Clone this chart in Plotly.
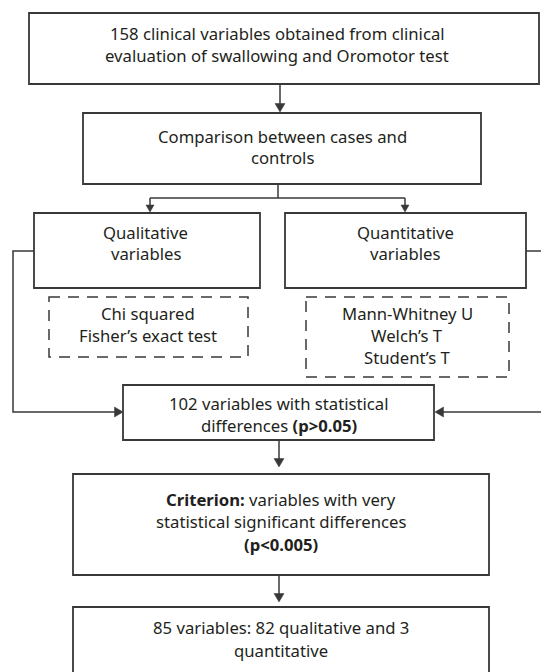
import plotly.graph_objects as go

# ---- content (text lines of each node) ----
box_lines = [
    ["158 clinical variables obtained from clinical",
     "evaluation of swallowing and Oromotor test"],
    ["Comparison between cases and", "controls"],
    ["Qualitative", "variables"],
    ["Quantitative", "variables"],
    ["102 variables with statistical", "differences <b>(p>0.05)</b>"],
    ["<b>Criterion:</b> variables with very",
     "statistical significant differences", "<b>(p<0.005)</b>"],
    ["85 variables: 82 qualitative and 3", "quantitative"],
]
test_lines = [
    ["Chi squared", "Fisher’s exact test"],
    ["Mann-Whitney U", "Welch’s T", "Student’s T"],
]

# ---- layout geometry (pixels, y downward) ----
W, H = 541, 672
boxes = [  # x0, y0, x1, y1
    (29, 13, 539, 84),
    (83, 113, 481, 184),
    (34, 213, 260, 288),
    (285, 213, 526, 288),
    (123, 385, 434, 440),
    (73, 474, 489, 575),
    (73, 607, 489, 700),
]
box_text_x = [277, 282, 145.5, 405, 278.5, 281, 281]
box_text_y = [[33, 55], [136, 157], [232, 253], [232, 253],
              [403, 425], [499, 521, 544], [627, 650]]
dashed = [
    (49, 297, 248, 357),
    (306, 297, 509, 377),
]
test_text_x = [148, 407]
test_text_y = [[313, 335], [313, 335, 357]]

LINE = "#383838"
TXT = "#231f20"
FONT = "Noto Sans"
FS = 16.7

shapes = []
annotations = []


def add_text(x, ys, lines):
    for y, t in zip(ys, lines):
        annotations.append(dict(x=x, y=y, text=t, showarrow=False,
                                xanchor="center", yanchor="middle", align="center",
                                font=dict(family=FONT, size=FS, color=TXT)))


for (x0, y0, x1, y1), tx, tys, lines in zip(boxes, box_text_x, box_text_y, box_lines):
    shapes.append(dict(type="rect", x0=x0, y0=y0, x1=x1, y1=y1,
                       line=dict(color=LINE, width=1.8), fillcolor="white", layer="below"))
    add_text(tx, tys, lines)

for (x0, y0, x1, y1), tx, tys, lines in zip(dashed, test_text_x, test_text_y, test_lines):
    shapes.append(dict(type="rect", x0=x0, y0=y0, x1=x1, y1=y1,
                       line=dict(color=LINE, width=1.5, dash="11px,8px")))
    add_text(tx, tys, lines)


def seg(pts, w=1.5):
    path = "M " + " L ".join(f"{x},{y}" for x, y in pts)
    shapes.append(dict(type="path", path=path, line=dict(color=LINE, width=w)))


def head(x, y, d, L=8.5, w=5):
    if d == "down":
        pts = [(x - w, y - L), (x + w, y - L), (x, y)]
    elif d == "right":
        pts = [(x - L, y - w), (x - L, y + w), (x, y)]
    else:  # left
        pts = [(x + L, y - w), (x + L, y + w), (x, y)]
    path = "M " + " L ".join(f"{a},{b}" for a, b in pts) + " Z"
    shapes.append(dict(type="path", path=path, fillcolor=LINE,
                       line=dict(color=LINE, width=0.5)))


# box1 -> box2
seg([(280, 84), (280, 105)]); head(280, 112, "down")
# box2 -> split
seg([(278, 184), (278, 198)])
seg([(150, 198), (405, 198)])
seg([(150, 198), (150, 207)]); head(150, 212, "down", L=7, w=4)
seg([(405, 198), (405, 207)]); head(405, 212, "down", L=7, w=4)
# qualitative -> 102 box
seg([(34, 251), (13, 251), (13, 412), (116, 412)]); head(123, 412, "right")
# quantitative -> 102 box
seg([(526, 251), (545, 251)])
seg([(545, 412), (441, 412)]); head(435, 412, "left")
# 102 -> criterion
seg([(279, 440), (279, 460)]); head(279, 467, "down")
# criterion -> final
seg([(279, 575), (279, 595)]); head(279, 602, "down")

fig = go.Figure()
fig.update_layout(
    width=W, height=H,
    margin=dict(l=0, r=0, t=0, b=0),
    paper_bgcolor="white", plot_bgcolor="white",
    xaxis=dict(range=[0, W], visible=False, fixedrange=True),
    yaxis=dict(range=[H, 0], visible=False, fixedrange=True),
    shapes=shapes, annotations=annotations, showlegend=False,
)
fig.write_html("out.html",
               config={"displayModeBar": False, "staticPlot": True},
               post_script="document.body.style.margin='0';document.body.style.overflow='hidden';")
